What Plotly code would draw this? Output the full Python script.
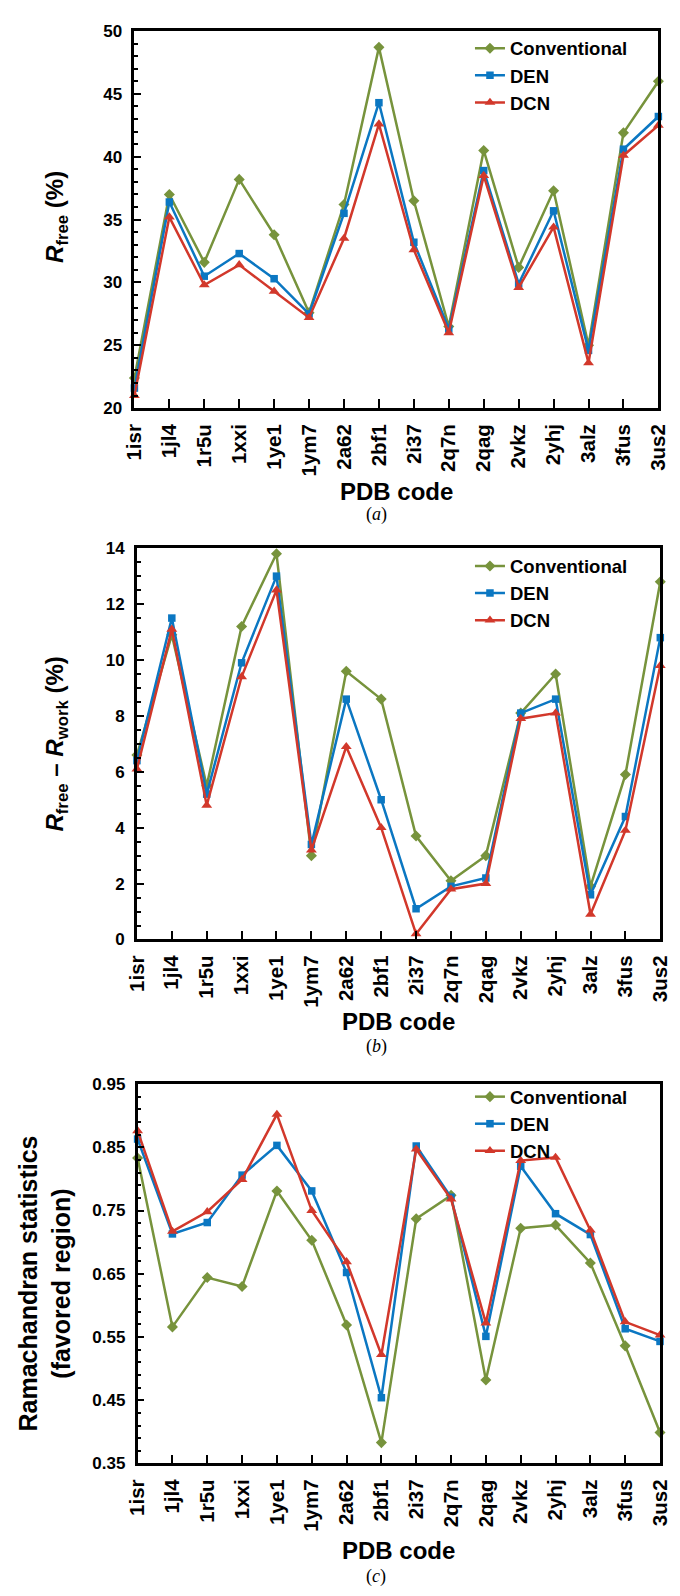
import plotly.graph_objects as go

pdb_codes = ["1isr", "1jl4", "1r5u", "1xxi", "1ye1", "1ym7", "2a62", "2bf1",
             "2i37", "2q7n", "2qag", "2vkz", "2yhj", "3alz", "3fus", "3us2"]

# (a) R_free (%)
rfree_conv = [22.4, 37.0, 31.6, 38.2, 33.8, 27.6, 36.2, 48.7, 36.5, 26.5, 40.5, 31.2, 37.3, 25.0, 41.9, 46.0]
rfree_den  = [21.6, 36.4, 30.5, 32.3, 30.3, 27.5, 35.5, 44.3, 33.2, 26.3, 38.9, 29.9, 35.7, 24.6, 40.6, 43.2]
rfree_dcn  = [21.0, 35.2, 29.8, 31.4, 29.3, 27.2, 33.5, 42.6, 32.6, 26.0, 38.5, 29.6, 34.4, 23.6, 40.1, 42.5]

# (b) R_free - R_work (%)
gap_conv = [6.6, 10.9, 5.5, 11.2, 13.8, 3.0, 9.6, 8.6, 3.7, 2.1, 3.0, 8.1, 9.5, 1.9, 5.9, 12.8]
gap_den  = [6.4, 11.5, 5.2, 9.9, 13.0, 3.4, 8.6, 5.0, 1.1, 1.9, 2.2, 8.1, 8.6, 1.6, 4.4, 10.8]
gap_dcn  = [6.1, 11.1, 4.8, 9.4, 12.5, 3.2, 6.9, 4.0, 0.2, 1.8, 2.0, 7.9, 8.1, 0.9, 3.9, 9.8]

# (c) Ramachandran statistics (favored region)
rama_conv = [0.833, 0.566, 0.644, 0.630, 0.781, 0.703, 0.569, 0.383, 0.737, 0.774, 0.482, 0.722, 0.727, 0.667, 0.536, 0.399]
rama_den  = [0.863, 0.713, 0.731, 0.806, 0.853, 0.781, 0.652, 0.454, 0.852, 0.771, 0.551, 0.820, 0.745, 0.712, 0.563, 0.543]
rama_dcn  = [0.876, 0.717, 0.748, 0.799, 0.902, 0.750, 0.669, 0.522, 0.847, 0.768, 0.572, 0.829, 0.834, 0.719, 0.574, 0.553]

series_names = ["Conventional", "DEN", "DCN"]

W, H = 680, 1596
FONT = "Liberation Sans, Arial, sans-serif"
COLORS = ["#77933C", "#0B77C2", "#D2382B"]
SYMBOLS = ["diamond", "square", "triangle-up"]
SIZES = [8.5, 7.5, 9.5]


def px_x(p):
    return p / W


def px_y(p):
    return 1 - p / H


fig = go.Figure()

panels = [
    dict(vals=[rfree_conv, rfree_den, rfree_dcn], xa="x", ya="y", leg="legend"),
    dict(vals=[gap_conv, gap_den, gap_dcn], xa="x2", ya="y2", leg="legend2"),
    dict(vals=[rama_conv, rama_den, rama_dcn], xa="x3", ya="y3", leg="legend3"),
]

for p in panels:
    for name, vals, col, sym, sz in zip(series_names, p["vals"], COLORS, SYMBOLS, SIZES):
        fig.add_trace(go.Scatter(
            x=pdb_codes, y=vals, name=name, mode="lines+markers",
            xaxis=p["xa"], yaxis=p["ya"], legend=p["leg"],
            line=dict(color=col, width=2.5),
            marker=dict(symbol=sym, size=sz, color=col),
            cliponaxis=False,
        ))

# geometry (pixels): left, right, top, bottom
geo = [
    (126.7, 669.0, 22.3, 404.0),
    (129.3, 671.0, 545.7, 941.7),
    (130.0, 670.7, 1088.0, 1472.0),
]
yranges = [(20, 50, 20, 5, 1, None), (0, 14, 0, 2, 0.5, None), (0.35, 0.95, 0.35, 0.1, 0.02, ".2f")]

axis_common = dict(showline=True, linecolor="black", linewidth=2.5, mirror=True,
                   showgrid=False, zeroline=False, ticks="inside", tickcolor="black",
                   tickwidth=2)

layout = dict(width=W, height=H, margin=dict(l=0, r=0, t=0, b=0),
              paper_bgcolor="white", plot_bgcolor="white",
              font=dict(family=FONT, color="black"))

for i, ((l, r, t, b), (y0, y1, t0, dt, mdt, fmt)) in enumerate(zip(geo, yranges)):
    sfx = "" if i == 0 else str(i + 1)
    layout["xaxis" + sfx] = dict(
        axis_common, domain=[px_x(l), px_x(r)], anchor="y" + sfx,
        type="category", categoryorder="array", categoryarray=pdb_codes,
        range=[0, len(pdb_codes) - 1], ticklen=9, tickangle=-90,
        tickfont=dict(family=FONT, size=20.5, weight="bold", color="black"),
        ticklabelstandoff=5,
    )
    ya = dict(
        axis_common, domain=[px_y(b), px_y(t)], anchor="x" + sfx,
        range=[y0, y1], tick0=t0, dtick=dt, ticklen=7,
        minor=dict(dtick=mdt, tick0=t0, ticks="inside", ticklen=4, tickcolor="black", tickwidth=2),
        tickfont=dict(family=FONT, size=17, weight="bold", color="black"),
        ticklabelstandoff=6,
    )
    if fmt:
        ya["tickformat"] = fmt
    layout["yaxis" + sfx] = ya

legend_style = dict(xanchor="left", yanchor="top", bgcolor="rgba(0,0,0,0)",
                    font=dict(family=FONT, size=18.5, weight="bold", color="black"),
                    tracegroupgap=0, itemclick=False)
legend_tops = [21, 545, 1082]
for i, top in enumerate(legend_tops):
    key = "legend" if i == 0 else "legend%d" % (i + 1)
    layout[key] = dict(legend_style, x=px_x(474), y=px_y(top))

fig.update_layout(**layout)

ann = []
title_font = dict(family=FONT, size=24, weight="bold", color="black")
ann.append(dict(text="<i>R</i><sub>free</sub> (%)", x=px_x(46), y=px_y(210), textangle=-90, font=title_font))
ann.append(dict(text="<i>R</i><sub>free</sub> \u2013 <i>R</i><sub>work</sub> (%)", x=px_x(46), y=px_y(744), textangle=-90, font=title_font))
ann.append(dict(text="Ramachandran statistics<br>(favored region)", x=px_x(34), y=px_y(1290), textangle=-90,
                font=dict(family=FONT, size=25, weight="bold", color="black")))
for (l, r, t, b), yy in zip(geo, [488, 1025, 1560]):
    ann.append(dict(text="PDB code", x=px_x((l + r) / 2), y=px_y(yy), font=title_font))
for txt, yy in zip(["(<i>a</i>)", "(<i>b</i>)", "(<i>c</i>)"], [512, 1050, 1586]):
    ann.append(dict(text=txt, x=px_x(377), y=px_y(yy),
                    font=dict(family="Liberation Serif, Times New Roman, serif", size=18, color="black")))

for a in ann:
    a.update(xref="paper", yref="paper", showarrow=False, xanchor="center", yanchor="middle")
fig.update_layout(annotations=ann)

fig.write_html("out.html", config={"displayModeBar": False},
               post_script="document.body.style.margin='0';document.body.style.overflow='hidden';")
